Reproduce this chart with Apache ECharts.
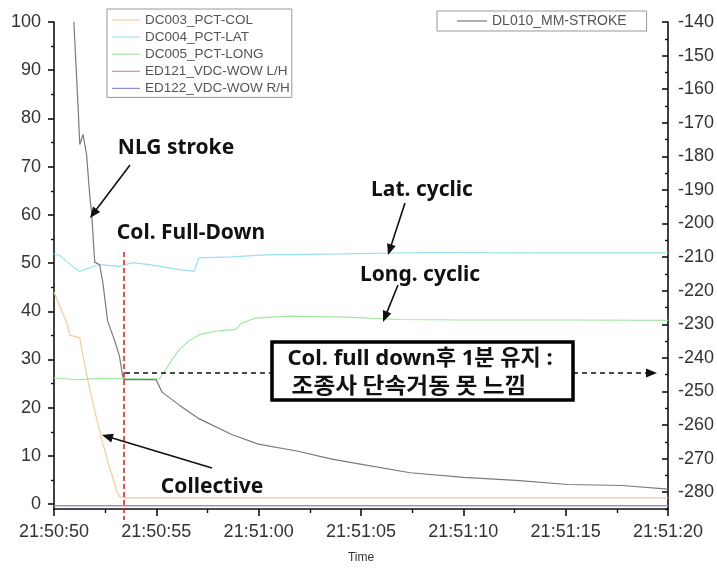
<!DOCTYPE html>
<html>
<head>
<meta charset="utf-8">
<script src="https://cdn.jsdelivr.net/npm/echarts@6/dist/echarts.min.js"></script>
<style>html,body{margin:0;padding:0;background:#fff;}#c{width:717px;height:569px;}</style>
</head>
<body>
<div id="c"></div>
<script>
// ---- data (time in seconds after 21:50:50) ----
const timeLabels = ['21:50:50','21:50:55','21:51:00','21:51:05','21:51:10','21:51:15','21:51:20'];
const leftTicks = [0,10,20,30,40,50,60,70,80,90,100];
const leftMinorTicks = [5,15,25,35,45,55,65,75,85,95];
const rightTicks = [-140,-150,-160,-170,-180,-190,-200,-210,-220,-230,-240,-250,-260,-270,-280];
const rightMinorTicks = [-145,-155,-165,-175,-185,-195,-205,-215,-225,-235,-245,-255,-265,-275,-285];

const colT = [0, 0.19, 0.44, 0.63, 0.78, 1.0, 1.26, 1.41, 1.74, 2.08, 2.38, 2.71, 3.05, 3.2, 3.4, 6, 12, 18, 24, 30];
const colV = [44, 42, 39.5, 37.5, 35, 34.8, 34.5, 30.8, 24, 17.8, 12.6, 7.7, 3, 1.6, 1.3, 1.3, 1.3, 1.3, 1.3, 1.3];

const latT = [0, 0.3, 0.63, 1.0, 1.26, 1.74, 2.23, 3.2, 3.83, 4.65, 5.48, 6.2, 6.85, 7.08, 8.68, 10.3, 14, 18.2, 24, 30];
const latV = [52, 51.5, 50.3, 49, 48.3, 49, 49.7, 49.3, 50.1, 49.7, 49.1, 48.6, 48.3, 51.1, 51.3, 51.7, 51.9, 52.2, 52.1, 52.1];

const longT = [0, 1.11, 2.23, 4.99, 5.14, 5.48, 5.77, 6.11, 6.59, 7.08, 7.9, 8.87, 9.17, 9.84, 11.44, 14.35, 16.77, 20, 25, 30];
const longV = [26.2, 25.8, 26.1, 26, 26, 28, 30, 32, 33.9, 35.1, 35.9, 36.2, 37.5, 38.6, 39, 38.8, 38.3, 38.2, 38.2, 38.1];

const wowLT = [0, 30];
const wowLV = [-0.3, -0.3];
const wowRT = [0, 30];
const wowRV = [-0.3, -0.3];

const strokeT = [0.97, 1.18, 1.26, 1.42, 1.59, 1.75, 1.84, 1.99, 2.23, 2.38, 2.62, 2.96, 3.2, 3.35, 3.44, 4.99, 5.28, 6.11, 7.08, 8.68, 9.98, 11.92, 13.52, 14.83, 17.4, 20.02, 22.58, 25.1, 27.77, 30];
const strokeV = [-140, -165.7, -176.5, -173.5, -179.4, -191.9, -196.9, -211.5, -212.3, -217.3, -229, -234.8, -239.5, -245.3, -246.5, -246.5, -250.2, -254, -258.1, -262.8, -265.7, -267.8, -270.1, -271.5, -274.2, -275.6, -276.5, -277.7, -278, -279.1];

const pairs = (t, v) => t.map((x, i) => [x, v[i]]);

const AX = '#111';
const FONT = 'Liberation Sans';
const ANN_FONT = 'bold 21px "Noto Sans", "Noto Sans CJK KR", sans-serif';

function lineSeries(name, t, v, color, yIdx) {
  return {
    name, type: 'line', yAxisIndex: yIdx, data: pairs(t, v),
    symbol: 'none', showSymbol: false, smooth: false,
    lineStyle: { color, width: 1.2 }, itemStyle: { color },
    emphasis: { disabled: true }, silent: true
  };
}

function arrow(x1, y1, x2, y2, dashed) {
  const dx = x2 - x1, dy = y2 - y1, len = Math.hypot(dx, dy);
  const ux = dx / len, uy = dy / len, px = -uy, py = ux;
  const L = 11, W = 4.5;
  const bx = x2 - ux * L, by = y2 - uy * L;
  return [
    { type: 'line', shape: { x1, y1, x2: bx + ux * 2, y2: by + uy * 2 },
      style: { stroke: '#111', lineWidth: 1.6, lineDash: dashed ? [5, 4] : null }, z: 100 },
    { type: 'polygon', shape: { points: [[x2, y2], [bx + px * W, by + py * W], [bx - px * W, by - py * W]] },
      style: { fill: '#111' }, z: 100 }
  ];
}

function label(text, x, y, font, sx) {
  return { type: 'text', x, y, z: 101, scaleX: sx || 1,
    style: { text, font: font || ANN_FONT, fill: '#111', align: 'center', verticalAlign: 'middle' } };
}

const chart = echarts.init(document.getElementById('c'), null, { renderer: 'canvas' });

const graphics = [].concat(
  [{ type: 'line', shape: { x1: 124, y1: 252, x2: 124, y2: 520 },
     style: { stroke: '#d42a2a', lineWidth: 1.6, lineDash: [5, 3] }, z: 100 }],
  [{ type: 'line', shape: { x1: 125, y1: 373, x2: 272, y2: 373 },
     style: { stroke: '#111', lineWidth: 1.5, lineDash: [5, 4] }, z: 100 }],
  arrow(573, 373, 657, 373, true),
  [{ type: 'rect', shape: { x: 272, y: 342, width: 301, height: 58 },
     style: { fill: '#fff', stroke: '#000', lineWidth: 3.5 }, z: 100 }],
  arrow(130, 165, 90, 218),
  arrow(405, 203, 388, 255),
  arrow(398, 285, 383, 322),
  arrow(212, 468, 102, 435),
  [
    label('NLG stroke', 176, 148),
    label('Col. Full-Down', 191, 233),
    label('Lat. cyclic', 422, 190),
    label('Long. cyclic', 420, 275),
    label('Collective', 212, 487),
    label('Col. full down후 1분 유지 :', 420, 359, 'bold 22px "Noto Sans", "Noto Sans CJK KR", sans-serif'),
    label('조종사 단속거동 못 느낌', 409, 385, 'bold 22px "Noto Sans CJK KR", sans-serif', 1.08)
  ]
);

const option = {
  animation: false,
  backgroundColor: '#fff',
  grid: { left: 54, right: 44, top: 22, bottom: 49 },
  legend: [
    {
      data: ['DC003_PCT-COL', 'DC004_PCT-LAT', 'DC005_PCT-LONG', 'ED121_VDC-WOW L/H', 'ED122_VDC-WOW R/H'],
      orient: 'vertical', left: 107, top: 9, icon: 'rect',
      padding: [4, 2, 2, 5], itemGap: 3.1, itemWidth: 28, itemHeight: 1.2,
      borderColor: '#999', borderWidth: 1, backgroundColor: '#fff',
      textStyle: { fontFamily: FONT, fontSize: 13.5, lineHeight: 14, color: '#555' },
      selectedMode: false
    },
    {
      data: ['DL010_MM-STROKE'],
      orient: 'vertical', left: 437, top: 11, icon: 'rect',
      padding: [3, 20, 3, 20], itemWidth: 30, itemHeight: 1.2,
      borderColor: '#999', borderWidth: 1, backgroundColor: '#fff',
      textStyle: { fontFamily: FONT, fontSize: 14, lineHeight: 14, color: '#555' },
      selectedMode: false
    }
  ],
  xAxis: {
    type: 'value', min: 0, max: 30, interval: 5,
    axisLine: { show: true, onZero: false, lineStyle: { color: AX, width: 1.6 } },
    axisTick: { show: true, length: 7, lineStyle: { color: AX, width: 1.6 } },
    minorTick: { show: true, splitNumber: 2, length: 4, lineStyle: { color: AX, width: 1.4 } },
    splitLine: { show: false },
    axisLabel: { formatter: v => timeLabels[Math.round(v / 5)], fontFamily: FONT, fontSize: 18, color: '#333', margin: 14 },
    name: 'Time', nameLocation: 'middle', nameGap: 43,
    nameTextStyle: { fontFamily: FONT, fontSize: 12, color: '#333' }
  },
  yAxis: [
    {
      type: 'value', position: 'left', min: -1, max: 100,
      axisLine: { show: true, onZero: false, lineStyle: { color: AX, width: 1.6 } },
      axisTick: { show: true, length: 6, customValues: leftTicks, lineStyle: { color: AX, width: 1.6 } },
      axisLabel: { customValues: leftTicks, fontFamily: FONT, fontSize: 18, color: '#333', margin: 13 },
      splitLine: { show: false }
    },
    {
      type: 'value', position: 'left', min: -1, max: 100,
      axisLine: { show: false },
      axisTick: { show: true, length: 3, customValues: leftMinorTicks, lineStyle: { color: AX, width: 1.4 } },
      axisLabel: { show: false },
      splitLine: { show: false }
    },
    {
      type: 'value', position: 'right', min: -285, max: -140,
      axisLine: { show: true, onZero: false, lineStyle: { color: AX, width: 1.6 } },
      axisTick: { show: true, inside: true, length: 6, customValues: rightTicks, lineStyle: { color: AX, width: 1.6 } },
      axisLabel: { customValues: rightTicks, fontFamily: FONT, fontSize: 18, color: '#333', margin: 10 },
      splitLine: { show: false }
    },
    {
      type: 'value', position: 'right', min: -285, max: -140,
      axisLine: { show: false },
      axisTick: { show: true, inside: true, length: 3, customValues: rightMinorTicks, lineStyle: { color: AX, width: 1.4 } },
      axisLabel: { show: false },
      splitLine: { show: false }
    }
  ],
  series: [
    lineSeries('DC003_PCT-COL', colT, colV, '#f3c999', 0),
    lineSeries('DC004_PCT-LAT', latT, latV, '#97e2ec', 0),
    lineSeries('DC005_PCT-LONG', longT, longV, '#a4e6a4', 0),
    lineSeries('ED121_VDC-WOW L/H', wowLT, wowLV, '#c89a9a', 0),
    lineSeries('ED122_VDC-WOW R/H', wowRT, wowRV, '#8c8cdc', 0),
    lineSeries('DL010_MM-STROKE', strokeT, strokeV, '#7a7a7a', 2)
  ],
  graphic: graphics
};
chart.setOption(option);
</script>
</body>
</html>
